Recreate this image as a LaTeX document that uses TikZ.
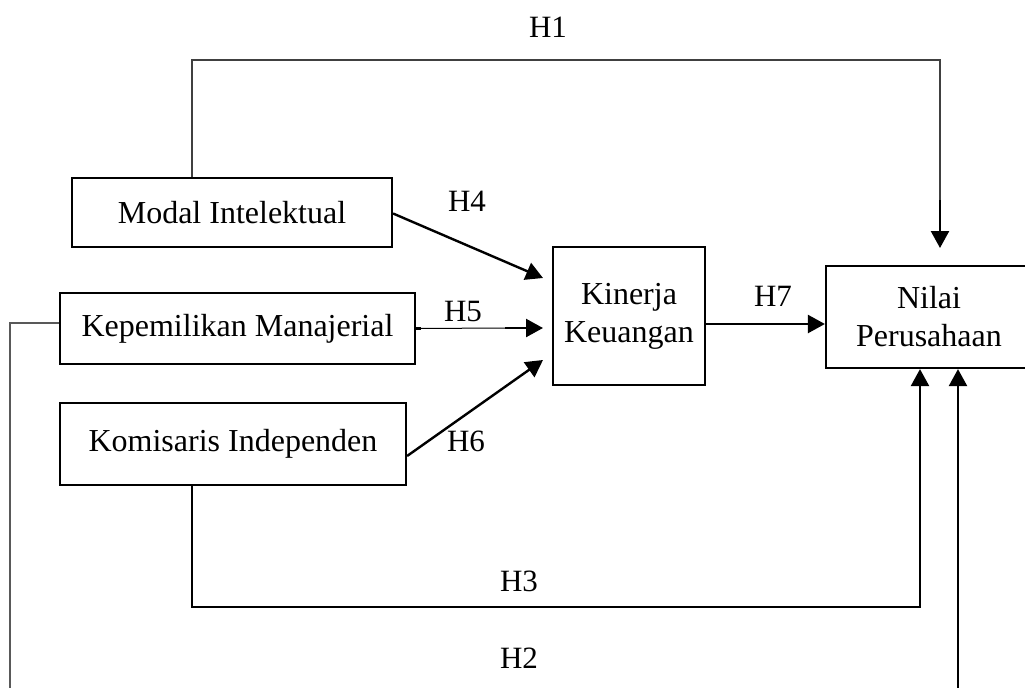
\documentclass[tikz,border=0pt]{standalone}
\usepackage{fontspec}
\setmainfont{Liberation Serif}
\usetikzlibrary{arrows.meta}
\begin{document}
\begin{tikzpicture}[x=0.5pt,y=-0.5pt,
  box/.style={draw,line width=1.1pt,inner sep=0pt,font=\fontsize{16}{19}\selectfont,align=center},
  lbl/.style={font=\fontsize{15.5}{18}\selectfont,inner sep=0pt},
  arr/.style={line width=1.2pt,-{Triangle[length=8.5pt,width=9pt]}},
  thin/.style={line width=0.6pt,draw=black!70}]
\clip (0,0) rectangle (1025,687);
\fill[white] (0,0) rectangle (1025,687);
\node[box,minimum width=320*0.5pt,minimum height=69*0.5pt] (mi) at (232,212.5) {Modal Intelektual};
\node[box,minimum width=355*0.5pt,minimum height=71*0.5pt] (km) at (237.5,328.5) {Kepemilikan Manajerial};
\node[box,minimum width=346*0.5pt,minimum height=82*0.5pt] (ki) at (233,444) {Komisaris Independen};
\node[box,minimum width=152*0.5pt,minimum height=138*0.5pt] (kk) at (629,316) {Kinerja\\Keuangan};
\node[box,minimum width=206*0.5pt,minimum height=102*0.5pt] (np) at (929,317) {Nilai\\Perusahaan};
% H1
\coordinate (h1a) at (192,60);
\coordinate (h1b) at (940,60);
\coordinate (h1m) at (940,200);
\coordinate (h1t) at (940,248);
\draw[line width=0.6pt,draw=black!75] (mi.north -| h1a) -- (h1a) -- (h1b) -- (h1m);
\draw[arr] (h1m) -- (h1t);
% H4
\coordinate (h4t) at (543,278);
\draw[arr] (mi.east) ++(0,1) -- (h4t);
% H5
\coordinate (h5m) at (505,328);
\coordinate (h5t) at (543,328);
\draw[line width=0.5pt] (km.east) -- (h5m);
\draw[line width=1.1pt] (km.east) -- ++(5,0);
\draw[arr] (h5m) -- (h5t);
% H6
\coordinate (h6t) at (543,360);
\draw[arr] (ki.east) ++(0,12) -- (h6t);
% H7
\draw[arr] (kk.east |- 0,324) -- (np.west |- 0,324);
% H3
\coordinate (h3a) at (192,607);
\coordinate (h3b) at (920,607);
\draw[arr] (ki.south -| h3a) -- (h3a) -- (h3b) -- (np.south -| h3b);
% H2
\coordinate (h2a) at (10,323);
\coordinate (h2b) at (10,700);
\draw[line width=0.6pt,draw=black!65] (km.west |- h2a) -- (h2a) -- (h2b);
\coordinate (h2c) at (958,700);
\draw[arr] (h2c) -- (np.south -| h2c);
% labels
\node[lbl] (l1) at (548,27) {H1};
\node[lbl] (l4) at (467,201) {H4};
\node[lbl] (l5) at (463,311) {H5};
\node[lbl] (l7) at (773,296) {H7};
\node[lbl] (l6) at (466,441) {H6};
\node[lbl] (l3) at (519,581) {H3};
\node[lbl] (l2) at (519,658) {H2};
\end{tikzpicture}
\end{document}
